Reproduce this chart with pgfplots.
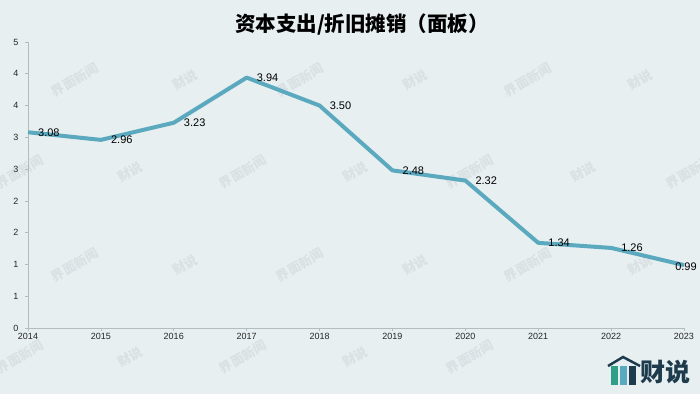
\documentclass[border=0pt]{standalone}
\usepackage{pgfplots}
\pgfplotsset{compat=1.18}
\usepackage{fontspec}
\setmainfont{Liberation Sans}
\newfontfamily\cjk{Noto Sans CJK SC}
\definecolor{bg}{HTML}{E7EFF1}
\definecolor{ln}{HTML}{5BA9BF}
\definecolor{ax}{HTML}{B4BCC0}
\definecolor{navy}{HTML}{1D3B4C}
\definecolor{wm}{HTML}{D9E1E4}
\definecolor{lgreen}{HTML}{2E9E86}
\begin{document}
\begin{tikzpicture}[x=1pt,y=1pt]
\fill[bg] (-28,-66) rectangle (672,328);
% faint watermarks (image px centres converted: x-28, 328-y)
\foreach \X/\Y/\t in {75/80/界面新闻,185/80/财说,300/80/界面新闻,415/80/财说,528/80/界面新闻,640/80/财说,
  20/172/界面新闻,130/172/财说,243/172/界面新闻,355/172/财说,470/172/界面新闻,583/172/财说,690/172/界面新闻,
  75/265/界面新闻,185/265/财说,300/265/界面新闻,415/265/财说,528/265/界面新闻,640/265/财说,
  20/357/界面新闻,130/357/财说,243/357/界面新闻,355/357/财说,470/357/界面新闻}
  \node[text=wm,rotate=30,font=\cjk\bfseries\fontsize{13}{13}\selectfont] at (\X-28,328-\Y) {\t};
\begin{axis}[
  scale only axis, width=656pt, height=286pt,
  at={(0,0)}, anchor=south west,
  xmin=2014, xmax=2023, ymin=0, ymax=4.5,
  axis x line*=bottom, axis y line*=left,
  axis line style={ax, line width=0.8pt},
  xtick={2014,...,2023},
  xticklabels={2014,2015,2016,2017,2018,2019,2020,2021,2022,2023},
  ytick={0,0.5,1,1.5,2,2.5,3,3.5,4,4.5},
  yticklabels={0,1,1,2,2,3,3,4,4,5},
  tick align=outside, major tick length=3pt,
  tick style={ax, line width=0.6pt},
  ticklabel style={font=\fontsize{9}{9}\selectfont, text=black!85},
  xticklabel style={yshift=1pt},
  yticklabel style={xshift=-3pt},
  clip=false,
  nodes near coords={\pgfmathprintnumber[fixed,fixed zerofill,precision=2,assume math mode=true]{\pgfplotspointmeta}},
  point meta=y,
]
\addplot[ln, line width=4pt, line join=round, nodes near coords={}]
  coordinates {(2014,3.08) (2015,2.96) (2016,3.23) (2017,3.94) (2018,3.50) (2019,2.48) (2020,2.32) (2021,1.34) (2022,1.26) (2023,0.99)};
\addplot[draw=none, mark=none,
  every node near coord/.append style={anchor=west, xshift=9pt, inner sep=1pt, text=black, font=\fontsize{11}{11}\selectfont}]
  coordinates {(2014,3.08) (2015,2.96) (2016,3.23) (2017,3.94) (2018,3.50) (2019,2.48) (2020,2.32) (2021,1.34) (2022,1.26)};
\addplot[draw=none, mark=none,
  every node near coord/.append style={anchor=center, xshift=2pt, yshift=-2pt, inner sep=1pt, text=black, font=\fontsize{11}{11}\selectfont}]
  coordinates {(2023,0.99)};
\end{axis}
\node[font=\cjk\bfseries\fontsize{20.5}{21}\selectfont] at (334,303) {资本支出/折旧摊销（面板）};
% logo
\fill[lgreen] (583,-57) rectangle (590,-38);
\fill[ln] (592,-57) rectangle (599,-38);
\fill[navy] (601,-57) rectangle (608,-38);
\draw[navy, line width=2.5pt] (580,-38) -- (595,-29) -- (612,-38);
\node[navy, anchor=west, font=\cjk\bfseries\fontsize{25}{25}\selectfont, inner sep=0pt] at (612,-44) {财说};
\pgfresetboundingbox
\useasboundingbox (-28,-66) rectangle (672,328);
\end{tikzpicture}
\end{document}
